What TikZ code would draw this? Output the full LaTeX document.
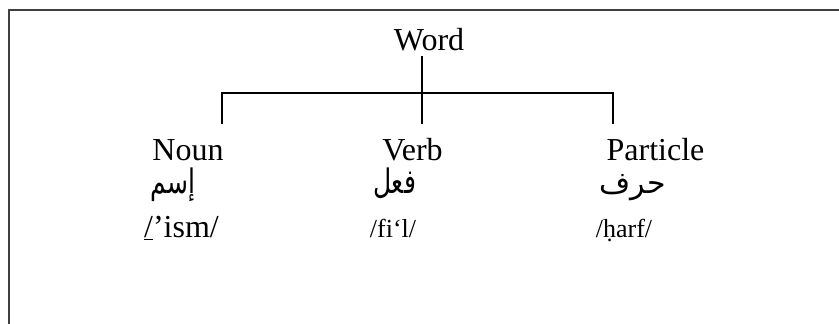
\documentclass[tikz,border=0pt]{standalone}
\usepackage{fontspec}
\setmainfont{Liberation Serif}
\newfontfamily\arabicfont[Script=Arabic]{DejaVu Sans}
\TeXXeTstate=1
\definecolor{framegray}{HTML}{404040}
\newcommand{\tallar}[1]{\scalebox{1}[1.35]{#1}}
\tikzset{
  lbl/.style={anchor=base, inner sep=0pt, font=\fontsize{32}{38}\selectfont},
  ar/.style={anchor=base, inner sep=0pt, font=\arabicfont\fontsize{25}{30}\selectfont},
  phon/.style={anchor=base, inner sep=0pt, font=\fontsize{26}{30}\selectfont},
  conn/.style={line width=2.6pt, line cap=rect},
}
\begin{document}
\begin{tikzpicture}[x=1pt,y=-1pt]
\useasboundingbox (0,0) rectangle (839,324);
\begin{scope}
\clip (0,0) rectangle (839,324);
\draw[framegray, line width=2pt] (9.3,10.3) rectangle (900,400);
\end{scope}
\node[lbl] (word) at (429,50) {Word};
\node[lbl] (noun) at (188,160) {Noun};
\node[lbl] (verb) at (412.5,160) {Verb};
\node[lbl] (part) at (655.5,160) {Particle};
\node[ar] (ism) at (173,193) {\tallar{\beginR إسم\endR}};
\node[ar] (fil) at (394.5,193) {\tallar{\beginR فعل\endR}};
\node[ar, font=\arabicfont\fontsize{30}{34}\selectfont] (harf) at (632.5,193) {\beginR حرف\endR};
\node[lbl] (pism) at (181.5,237) {\underline{/}’ism/};
\node[phon] (pfil) at (393,237) {/fi‘l/};
\node[phon] (pharf) at (624,237) {/ḥarf/};
\coordinate (top) at (422,57);
\coordinate (h1) at (222,93);
\coordinate (h2) at (422,93);
\coordinate (h3) at (613,93);
\coordinate (d1) at (222,123);
\coordinate (d2) at (422,123);
\coordinate (d3) at (613,123);
\draw[conn] (top) -- (d2);
\draw[conn] (d1) -- (h1) -- (h3) -- (d3);
\end{tikzpicture}
\end{document}
